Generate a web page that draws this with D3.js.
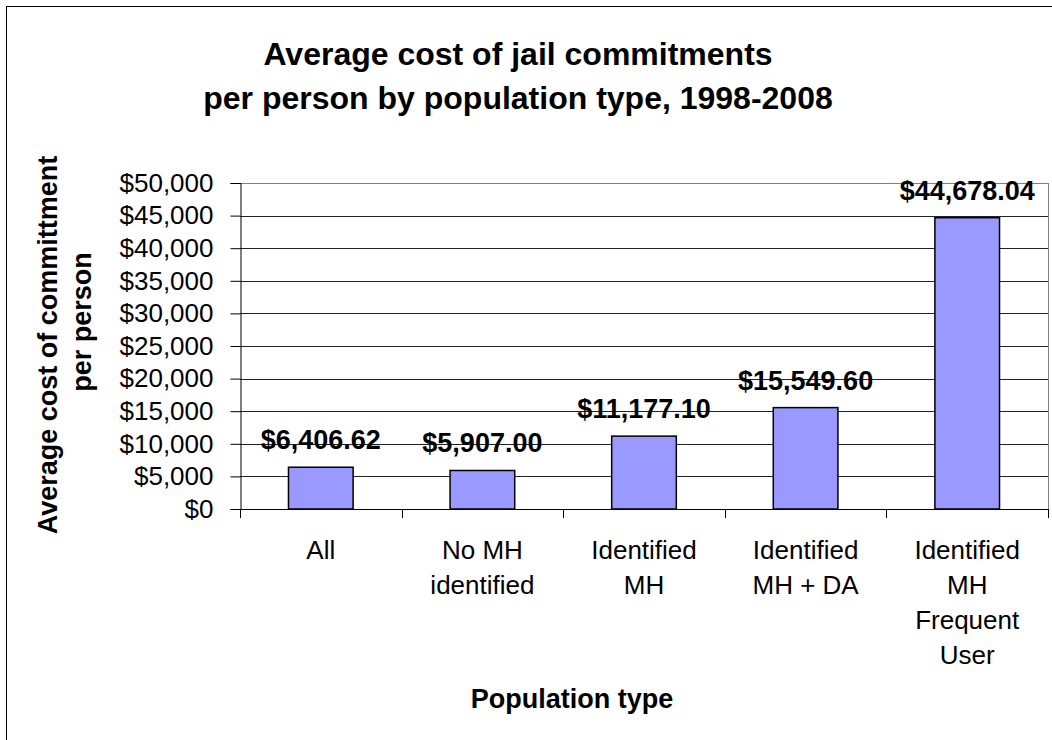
<!DOCTYPE html>
<head>
    <meta charset="utf-8">
    <script src="https://d3js.org/d3.v7.min.js"></script>
    <style>
      body { margin: 0; background: #fff; }
      text { font-family: "Liberation Sans", Arial, sans-serif; fill: #000; }
    </style>
</head>

<body>
<div id="chart"></div>

<script>
  // data
  var categories = [
    ["All"],
    ["No MH", "identified"],
    ["Identified", "MH"],
    ["Identified", "MH + DA"],
    ["Identified", "MH", "Frequent", "User"]
  ];
  var costs = [6406.62, 5907.00, 11177.10, 15549.60, 44678.04];
  var yTicks = [0, 5000, 10000, 15000, 20000, 25000, 30000, 35000, 40000, 45000, 50000];
  var titleLines = ["Average cost of jail commitments", "per person by population type, 1998-2008"];
  var yTitleLines = ["Average cost of committment", "per person"];
  var xTitle = "Population type";

  var width = 1052;
  var height = 740;
  var plot = {left: 240, right: 1048, top: 183, bottom: 509};

  var svg = d3.select("#chart").append("svg")
      .attr("width", width)
      .attr("height", height);

  // outer chart border (only left/top fall inside the picture)
  svg.append("rect")
      .attr("x", 6.5).attr("y", 6.5)
      .attr("width", 1200).attr("height", 1200)
      .attr("fill", "#fff")
      .attr("stroke", "#000");

  var keys = categories.map(function(c) { return c.join(" "); });

  var x = d3.scaleBand()
      .domain(keys)
      .range([plot.left, plot.right])
      .padding(0);

  var y = d3.scaleLinear()
      .domain([0, 50000])
      .range([plot.bottom, plot.top]);

  var barW = x.bandwidth() * 0.4;

  // gridlines
  svg.append("g")
    .selectAll("line")
    .data(yTicks.slice(1))
    .enter().append("line")
      .attr("x1", plot.left).attr("x2", plot.right)
      .attr("y1", function(d) { return Math.round(y(d)) + 0.5; })
      .attr("y2", function(d) { return Math.round(y(d)) + 0.5; })
      .attr("stroke", function(d) { return d === 50000 ? "#808080" : "#222"; })
      .attr("stroke-width", 1);

  // plot right border
  svg.append("line")
      .attr("x1", plot.right + 0.5).attr("x2", plot.right + 0.5)
      .attr("y1", plot.top).attr("y2", plot.bottom)
      .attr("stroke", "#808080");

  // bars
  svg.append("g")
    .selectAll("rect")
    .data(costs)
    .enter().append("rect")
      .attr("x", function(d, i) { return x(keys[i]) + (x.bandwidth() - barW) / 2; })
      .attr("y", function(d) { return y(d); })
      .attr("width", barW)
      .attr("height", function(d) { return y(0) - y(d); })
      .attr("fill", "#9999ff")
      .attr("stroke", "#000")
      .attr("stroke-width", 1.5);

  // value labels
  var money = d3.format(",.2f");
  svg.append("g")
    .selectAll("text")
    .data(costs)
    .enter().append("text")
      .attr("x", function(d, i) { return x(keys[i]) + x.bandwidth() / 2; })
      .attr("y", function(d) { return y(d) - 18; })
      .attr("text-anchor", "middle")
      .style("font-size", "27px")
      .style("font-weight", "bold")
      .text(function(d) { return "$" + money(d); });

  // y axis
  var yAxis = svg.append("g")
      .attr("transform", "translate(" + (plot.left + 0.5) + ",0)")
      .call(d3.axisLeft(y)
        .tickValues(yTicks)
        .tickSize(10)
        .tickPadding(17)
        .tickFormat(function(d) { return "$" + d3.format(",")(d); }));
  yAxis.select(".domain").attr("stroke", "#000");
  yAxis.selectAll(".tick line").attr("stroke", "#000");
  yAxis.selectAll(".tick text")
      .style("font-size", "26px")
      .attr("fill", "#000");

  // x axis line + boundary ticks
  svg.append("line")
      .attr("x1", plot.left).attr("x2", plot.right + 1)
      .attr("y1", plot.bottom + 0.5).attr("y2", plot.bottom + 0.5)
      .attr("stroke", "#000");

  var bounds = keys.map(function(k) { return x(k); }).concat([plot.right]);
  svg.append("g")
    .selectAll("line")
    .data(bounds)
    .enter().append("line")
      .attr("x1", function(d) { return Math.round(d) + 0.5; })
      .attr("x2", function(d) { return Math.round(d) + 0.5; })
      .attr("y1", plot.bottom).attr("y2", plot.bottom + 9)
      .attr("stroke", "#000");

  // category labels
  var catText = svg.append("g")
    .selectAll("text")
    .data(categories)
    .enter().append("text")
      .attr("text-anchor", "middle")
      .style("font-size", "26px")
      .attr("x", function(d, i) { return x(keys[i]) + x.bandwidth() / 2; })
      .attr("y", plot.bottom + 50);

  catText.selectAll("tspan")
    .data(function(d) { return d; })
    .enter().append("tspan")
      .attr("x", function() { return this.parentNode.getAttribute("x"); })
      .attr("dy", function(d, i) { return i === 0 ? 0 : 35; })
      .text(function(d) { return d; });

  // chart title
  svg.append("g")
    .selectAll("text")
    .data(titleLines)
    .enter().append("text")
      .attr("x", 518)
      .attr("y", function(d, i) { return 65 + i * 44; })
      .attr("text-anchor", "middle")
      .style("font-size", "32px")
      .style("font-weight", "bold")
      .text(function(d) { return d; });

  // y axis title (second line sits a little higher, as in the original)
  var yTitleCenter = [345, 322];
  svg.append("g")
    .selectAll("text")
    .data(yTitleLines)
    .enter().append("text")
      .attr("transform", function(d, i) {
        return "translate(" + (57 + i * 34) + "," + yTitleCenter[i] + ") rotate(-90)";
      })
      .attr("text-anchor", "middle")
      .style("font-size", "27px")
      .style("font-weight", "bold")
      .text(function(d) { return d; });

  // x axis title
  svg.append("text")
      .attr("x", 572)
      .attr("y", 708)
      .attr("text-anchor", "middle")
      .style("font-size", "27px")
      .style("font-weight", "bold")
      .text(xTitle);
</script>
</body>
</html>
